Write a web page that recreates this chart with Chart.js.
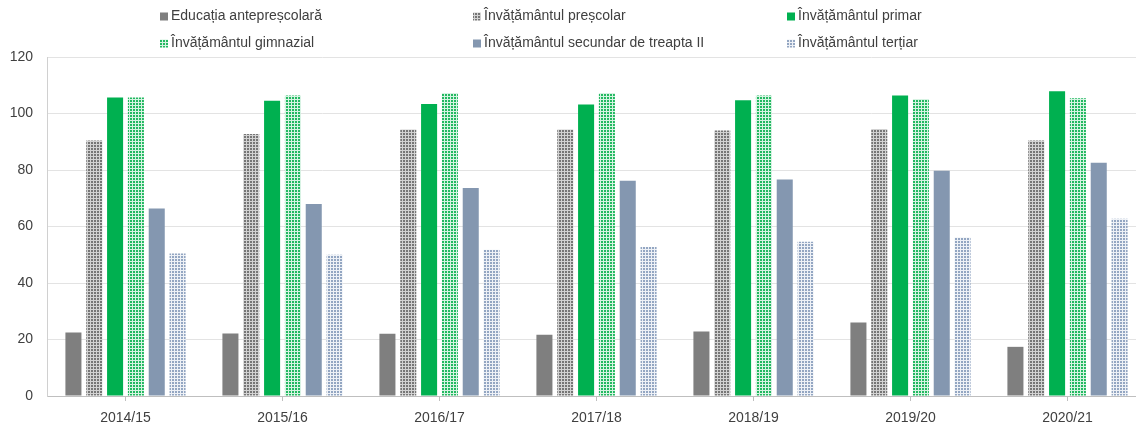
<!DOCTYPE html>
<html>
<head>
<meta charset="utf-8">
<script src="https://cdn.jsdelivr.net/npm/chart.js@4.4.0/dist/chart.umd.min.js"></script>
<style>
    body { margin: 0; background: #fff; overflow: hidden; }
    #wrap { width: 1146px; height: 427px; }
</style>
</head>
<body>
<div id="wrap"><canvas id="chart"></canvas></div>
<script>
// Data
var labels = ['2014/15', '2015/16', '2016/17', '2017/18', '2018/19', '2019/20', '2020/21'];
var seriesNames = [
    'Educația antepreșcolară',
    'Învățământul preșcolar',
    'Învățământul primar',
    'Învățământul gimnazial',
    'Învățământul secundar de treapta II',
    'Învățământul terțiar'
];
var antepresc = [22.5, 22.1, 22.0, 21.7, 22.8, 26.0, 17.4];
var presc = [90.4, 92.7, 94.3, 94.3, 94.0, 94.5, 90.4];
var primar = [105.7, 104.5, 103.4, 103.2, 104.7, 106.4, 107.9];
var gimnazial = [105.7, 106.4, 107.3, 107.3, 106.4, 105.1, 105.4];
var secundar = [66.4, 68.0, 73.6, 76.2, 76.6, 79.7, 82.6];
var tertiar = [50.4, 50.0, 51.8, 52.7, 54.6, 56.1, 62.7];
var yTicks = [0, 20, 40, 60, 80, 100, 120];

var textColor = '#404040';
var fontFamily = '"Liberation Sans", Arial, sans-serif';

// small dotted-grid pattern, like the Excel pattern fills
function makePattern(c1, c2) {
    var p = document.createElement('canvas');
    p.width = 3;
    p.height = 3;
    var pc = p.getContext('2d');
    pc.fillStyle = c2;
    pc.fillRect(0, 0, 3, 3);
    pc.fillStyle = c1;
    pc.fillRect(1, 1, 2, 2);
    return pc.createPattern(p, 'repeat');
}

var fills = [
    '#7f7f7f',
    makePattern('#767676', '#d2d2d2'),
    '#00b050',
    makePattern('#22b860', '#d6f3e2'),
    '#8497b0',
    makePattern('#93a6c2', '#eef1f6')
];

var values = [antepresc, presc, primar, gimnazial, secundar, tertiar];
var datasets = [];
for (var i = 0; i < values.length; i++) {
    datasets.push({
        label: seriesNames[i],
        data: values[i],
        backgroundColor: fills[i],
        borderWidth: 0,
        categoryPercentage: 0.796,
        barPercentage: 0.77
    });
}

// legend in a fixed 3-column grid, as in the original
var gridLegend = {
    id: 'gridLegend',
    afterDraw: function(chart) {
        var ctx = chart.ctx;
        var colX = [160, 473, 787];
        var rowY = [16.5, 43.5];
        ctx.save();
        ctx.font = '14px ' + fontFamily;
        ctx.textBaseline = 'middle';
        ctx.textAlign = 'left';
        chart.data.datasets.forEach(function(ds, i) {
            var x = colX[i % 3];
            var y = rowY[Math.floor(i / 3)];
            ctx.fillStyle = ds.backgroundColor;
            ctx.fillRect(x, y - 4, 8, 8);
            ctx.fillStyle = textColor;
            ctx.fillText(ds.label, x + 11, y);
        });
        ctx.restore();
    }
};

var ctx = document.getElementById('chart').getContext('2d');
new Chart(ctx, {
    type: 'bar',
    data: {
        labels: labels,
        datasets: datasets
    },
    plugins: [gridLegend],
    options: {
        responsive: true,
        maintainAspectRatio: false,
        animation: false,
        layout: {
            padding: { top: 57, left: 0, right: 0, bottom: 0 }
        },
        plugins: {
            legend: { display: false },
            tooltip: { enabled: false }
        },
        scales: {
            x: {
                afterFit: function(scale) { scale.height = 31; },
                grid: {
                    offset: false,
                    drawOnChartArea: false,
                    drawTicks: true,
                    tickLength: 5,
                    color: '#bfbfbf'
                },
                border: { color: '#bfbfbf' },
                ticks: {
                    color: textColor,
                    padding: 9,
                    font: { family: fontFamily, size: 14 }
                }
            },
            y: {
                min: 0,
                max: 120,
                afterFit: function(scale) { scale.width = 47; },
                afterBuildTicks: function(scale) {
                    scale.ticks = yTicks.map(function(v) { return { value: v }; });
                },
                grid: {
                    color: '#e3e3e3',
                    drawTicks: false
                },
                border: { color: '#d0d0d0' },
                ticks: {
                    color: textColor,
                    padding: 14,
                    font: { family: fontFamily, size: 14 }
                }
            }
        }
    }
});
</script>
</body>
</html>
